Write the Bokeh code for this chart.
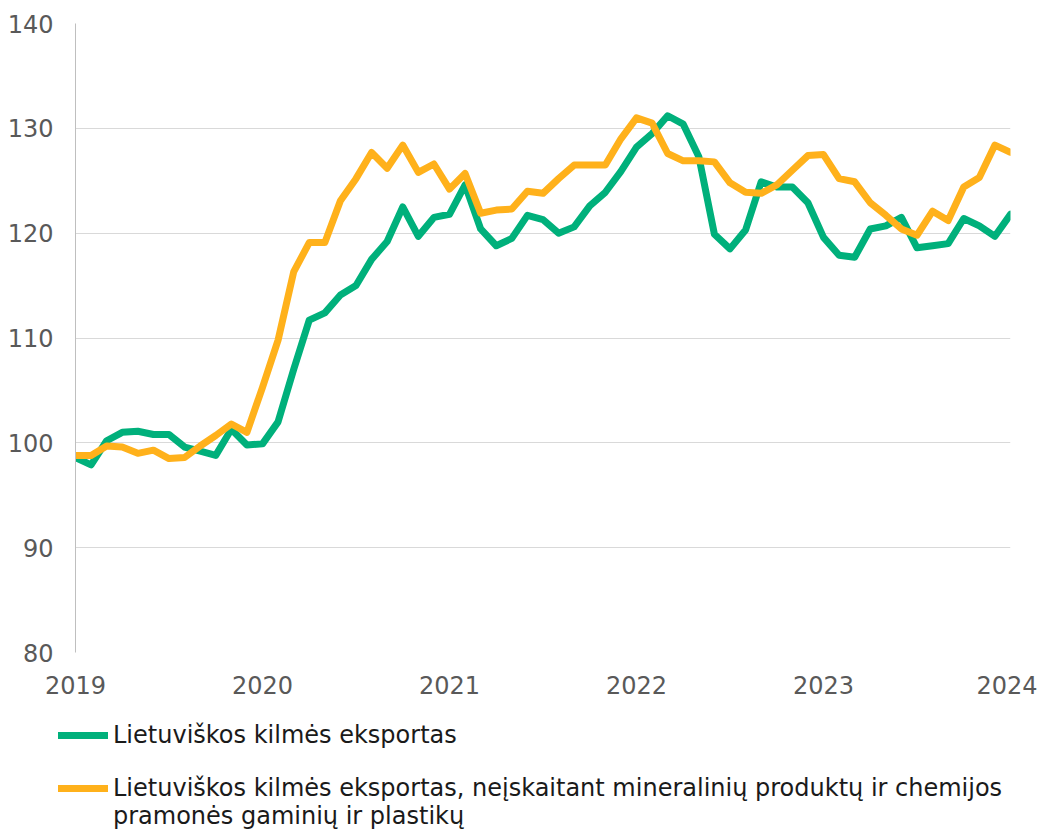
import numpy as np
import pandas as pd
from bokeh.plotting import figure
from bokeh.layouts import column, row
from bokeh.models import Legend, LegendItem, FixedTicker, Range1d
from bokeh.embed import file_html
from bokeh.resources import INLINE

# ---- data ----
months = pd.date_range("2019-01-01", periods=61, freq="MS")
year_ticks = [2019, 2020, 2021, 2022, 2023, 2024]
y_ticks = [80, 90, 100, 110, 120, 130, 140]

total_export = [
    98.6, 97.9, 100.2, 101.0, 101.1, 100.8, 100.8, 99.6, 99.2, 98.8, 101.3, 99.8,
    99.9, 102.0, 107.0, 111.7, 112.4, 114.1, 115.0, 117.5, 119.2, 122.5, 119.7, 121.5,
    121.8, 124.6, 120.4, 118.8, 119.5, 121.7, 121.3, 120.0, 120.6, 122.6, 123.9, 125.9,
    128.2, 129.5, 131.2, 130.4, 127.3, 119.9, 118.5, 120.3, 124.9, 124.4, 124.4, 122.9,
    119.6, 117.9, 117.7, 120.4, 120.7, 121.5, 118.6, 118.8, 119.0, 121.4, 120.7, 119.7,
    121.8,
]
excl_export = [
    98.8, 98.8, 99.7, 99.6, 99.0, 99.3, 98.5, 98.6, 99.7, 100.7, 101.8, 101.0,
    105.3, 109.8, 116.3, 119.1, 119.1, 123.1, 125.2, 127.7, 126.2, 128.4, 125.8, 126.6,
    124.2, 125.7, 121.9, 122.2, 122.3, 124.0, 123.8, 125.2, 126.5, 126.5, 126.5, 129.0,
    131.0, 130.5, 127.6, 126.9, 126.9, 126.8, 124.8, 123.9, 123.8, 124.6, 126.0, 127.4,
    127.5, 125.2, 124.9, 122.9, 121.7, 120.4, 119.8, 122.1, 121.2, 124.4, 125.3, 128.4,
    127.7,
]
label_total = "Lietuviškos kilmės eksportas"
label_excl_1 = "Lietuviškos kilmės eksportas, neįskaitant mineralinių produktų ir chemijos"
label_excl_2 = "pramonės gaminių ir plastikų"
colors = ["#00B07B", "#FFB11B"]

FONT = "DejaVu Sans"

# ---- main chart ----
x = list((months.year - 2019) * 12 + (months.month - 1))

p = figure(width=1037, height=700, output_backend="svg", toolbar_location=None,
           x_range=Range1d(0, 60), y_range=Range1d(80, 140),
           min_border_left=75, min_border_right=27, min_border_top=23,
           min_border_bottom=48)
p.outline_line_color = None
p.background_fill_color = "white"
p.border_fill_color = "white"

p.line(x, total_export, line_color=colors[0], line_width=7,
       line_join="round", line_cap="round")
p.line(x, excl_export, line_color=colors[1], line_width=7,
       line_join="round", line_cap="round")

xt = [(yy - 2019) * 12 for yy in year_ticks]
p.xaxis.ticker = FixedTicker(ticks=xt)
p.xaxis.major_label_overrides = {t: str(yy) for t, yy in zip(xt, year_ticks)}
p.yaxis.ticker = FixedTicker(ticks=y_ticks)

for ax in (p.xaxis[0], p.yaxis[0]):
    ax.major_tick_line_color = None
    ax.minor_tick_line_color = None
    ax.major_label_text_font = FONT
    ax.major_label_text_font_size = "24px"
    ax.major_label_text_color = "#595959"
p.xaxis.axis_line_color = None
p.yaxis.axis_line_color = "#BFBFBF"
p.yaxis.major_label_standoff = 16
p.xaxis.major_label_standoff = 17

p.xgrid.grid_line_color = None
p.ygrid.grid_line_color = "#D9D9D9"
p.ygrid.grid_line_width = 1

# ---- legend strip (series drawn off-range: only their legend swatches show) ----
leg = figure(width=1037, height=132, output_backend="svg", toolbar_location=None,
             x_range=Range1d(0, 60), y_range=Range1d(0, 1),
             x_axis_type=None, y_axis_type=None,
             min_border_left=0, min_border_right=0, min_border_top=0,
             min_border_bottom=0)
leg.outline_line_color = None
leg.border_fill_color = "white"

r_total = leg.line(x, total_export, line_color=colors[0], line_width=7, line_cap="round")
r_excl = leg.line(x, excl_export, line_color=colors[1], line_width=7, line_cap="round")
r_blank = leg.line(x, excl_export, line_color=colors[1], line_width=7, line_alpha=0)


def style(lg):
    lg.label_text_font = FONT
    lg.label_text_font_size = "24px"
    lg.label_text_color = "#1A1A1A"
    lg.glyph_width = 50
    lg.glyph_height = 20
    lg.label_standoff = 5
    lg.label_height = 27
    lg.spacing = 0
    lg.padding = 0
    lg.margin = 0
    lg.border_line_alpha = 0
    lg.background_fill_alpha = 0


lg1 = Legend(items=[LegendItem(label=label_total, renderers=[r_total])],
             location=(58, 83), orientation="vertical")
lg2 = Legend(items=[LegendItem(label=label_excl_1, renderers=[r_excl]),
                    LegendItem(label=label_excl_2, renderers=[r_blank])],
             location=(58, 2), orientation="vertical")
style(lg1)
style(lg2)
leg.add_layout(lg1, "center")
leg.add_layout(lg2, "center")

layout = column(p, row(leg), spacing=0)
open("out.html", "w").write(file_html(layout, INLINE))
